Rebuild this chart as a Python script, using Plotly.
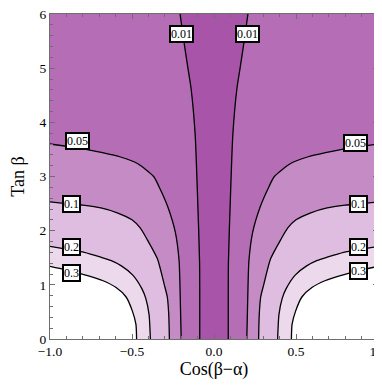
import plotly.graph_objects as go

# contour levels and their fill colours (region below each level)
levels = [0.3, 0.2, 0.1, 0.05, 0.01]
level_text = ["0.3", "0.2", "0.1", "0.05", "0.01"]
fill_colors = ["#ecdaec", "#dfbde0", "#c58bc5", "#b56eb5", "#a854a8"]

# right-hand branch of each contour (left branch is the mirror)
tan_03 = [0, 0.27, 0.51, 0.78, 0.95, 1.08, 1.16, 1.22, 1.28, 1.34]
cos_03 = [0.472, 0.476, 0.497, 0.537, 0.597, 0.68, 0.76, 0.83, 0.91, 1.0]

tan_02 = [0, 0.45, 0.75, 0.93, 1.18, 1.35, 1.45, 1.51, 1.6, 1.66, 1.71]
cos_02 = [0.388, 0.396, 0.416, 0.44, 0.495, 0.565, 0.63, 0.69, 0.79, 0.9, 1.0]

tan_01 = [0, 0.45, 0.78, 1.0, 1.48, 1.84, 2.05, 2.2, 2.33, 2.42, 2.47, 2.5, 2.53]
cos_01 = [0.272, 0.276, 0.285, 0.303, 0.345, 0.408, 0.45, 0.5, 0.59, 0.69, 0.8, 0.9, 1.0]

tan_005 = [0, 1.05, 1.45, 1.96, 2.45, 2.78, 3.0, 3.24, 3.36, 3.44, 3.5, 3.55, 3.6]
cos_005 = [0.2, 0.208, 0.213, 0.235, 0.283, 0.33, 0.368, 0.467, 0.57, 0.68, 0.78, 0.88, 1.0]

tan_001 = [0, 1.42, 2.6, 3.78, 4.63, 5.02, 5.38, 6.0]
cos_001 = [0.087, 0.088, 0.10, 0.115, 0.14, 0.16, 0.178, 0.207]

branches = [(cos_03, tan_03), (cos_02, tan_02), (cos_01, tan_01), (cos_005, tan_005), (cos_001, tan_001)]

# contour label positions (x, y) for each level: left and right
label_left = [(-0.867, 1.22), (-0.867, 1.70), (-0.867, 2.50), (-0.83, 3.65), (-0.20, 5.64)]
label_right = [(0.88, 1.26), (0.88, 1.69), (0.88, 2.49), (0.86, 3.61), (0.206, 5.64)]

x_ticks = [-1.0, -0.5, 0.0, 0.5, 1.0]
y_ticks = [0, 1, 2, 3, 4, 5, 6]

SERIF = "Liberation Serif"
FRAME = "#6e6e6e"

fig = go.Figure()

for (cx, ty), col in zip(branches, fill_colors):
    # polygon: left branch top->bottom, dip below axis, right branch bottom->top
    left_x = [-v for v in cx[::-1]]
    left_y = ty[::-1]
    px = left_x + [left_x[-1], cx[0]] + cx
    py = left_y + [-0.5, -0.5] + ty
    if cx[-1] >= 1.0:
        # branch leaves through the side edges: close over the top outside the frame
        px = px + [1.3, 1.3, -1.3, -1.3]
        py = py + [ty[-1], 6.6, 6.6, ty[-1]]
    else:
        px = px + [cx[-1], -cx[-1]]
        py = py + [6.6, 6.6]
    fig.add_trace(go.Scatter(
        x=px, y=py, mode="lines", fill="toself", fillcolor=col,
        line=dict(width=0, shape="spline", smoothing=0.6),
        hoverinfo="skip", showlegend=False,
    ))

for cx, ty in branches:
    for sign in (-1, 1):
        fig.add_trace(go.Scatter(
            x=[sign * v for v in cx], y=ty, mode="lines",
            line=dict(color="black", width=1.3, shape="spline", smoothing=0.6),
            hoverinfo="skip", showlegend=False,
        ))

for txt, (lx, ly), (rx, ry) in zip(level_text, label_left, label_right):
    for ax_, ay_ in ((lx, ly), (rx, ry)):
        fig.add_annotation(
            x=ax_, y=ay_, text=txt, showarrow=False,
            font=dict(family=SERIF, size=12, color="black"),
            bgcolor="white", bordercolor="black", borderwidth=2, borderpad=0,
        )

axis_common = dict(
    showgrid=False, zeroline=False, showline=True, linecolor=FRAME, linewidth=1,
    mirror="ticks", ticks="inside", ticklen=5, tickcolor=FRAME, automargin=False,
    ticklabeloverflow="allow",
    tickfont=dict(family=SERIF, size=13.5, color="black"),
)

fig.update_layout(
    width=382, height=389,
    margin=dict(l=42, r=12, t=6, b=58),
    paper_bgcolor="white", plot_bgcolor="white",
    font=dict(family=SERIF),
    xaxis=dict(
        range=[-1, 1], tickvals=x_ticks, tickformat=".1f",
        minor=dict(dtick=0.1, ticklen=3, ticks="inside", tickcolor=FRAME),
        title=dict(text="Cos(β−α)", font=dict(family=SERIF, size=18, color="black"), standoff=2),
        **axis_common,
    ),
    yaxis=dict(
        range=[0, 6], tickvals=y_ticks,
        minor=dict(dtick=0.2, ticklen=3, ticks="inside", tickcolor=FRAME),
        title=dict(text="Tan β", font=dict(family=SERIF, size=18, color="black"), standoff=12),
        **axis_common,
    ),
)

fig.write_html("out.html")
